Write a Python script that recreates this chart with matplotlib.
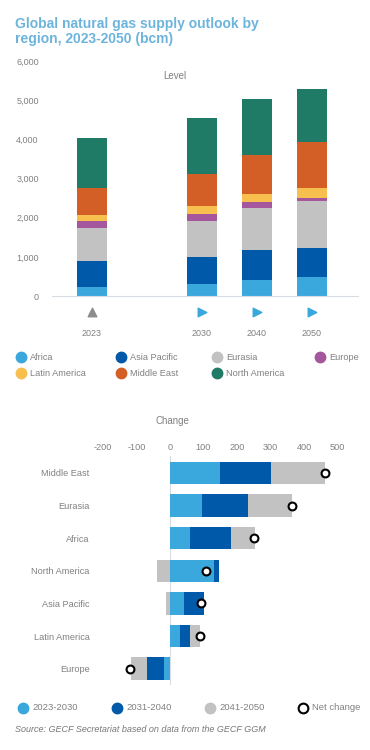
import numpy as np
import matplotlib
matplotlib.use("Agg")
import matplotlib.pyplot as plt
from matplotlib.lines import Line2D
from matplotlib.ticker import FuncFormatter
import matplotlib.transforms as mtransforms

plt.rcParams['font.family'] = ['Liberation Sans', 'DejaVu Sans']
plt.rcParams['axes.unicode_minus'] = False

# ---- data ----
years = ['2023', '2030', '2040', '2050']
regions = ['Africa', 'Asia Pacific', 'Eurasia', 'Europe',
           'Latin America', 'Middle East', 'North America']
levels = {
    'Africa':        [240, 300, 410, 475],
    'Asia Pacific':  [660, 695, 765, 760],
    'Eurasia':       [827, 925, 1070, 1200],
    'Europe':        [194, 170, 145, 75],
    'Latin America': [153, 210, 210, 240],
    'Middle East':   [689, 825, 995, 1175],
    'North America': [1260, 1430, 1435, 1370],
}
region_colors = ['#3aa8dc', '#005aa9', '#c2c2c2', '#a4579c',
                 '#f6bf4e', '#d35f27', '#1f7b66']

change_regions = ['Middle East', 'Eurasia', 'Africa', 'North America',
                  'Asia Pacific', 'Latin America', 'Europe']
periods = ['2023-2030', '2031-2040', '2041-2050']
chg_2023_2030 = [149, 94, 61, 130, 42, 29, -17]
chg_2031_2040 = [153, 138, 120, 15, 60, 31, -52]
chg_2041_2050 = [160, 132, 72, -38, -11, 30, -47]
net_change = [462, 363, 251, 107, 91, 88, -119]
period_colors = ['#3aa8dc', '#005aa9', '#c2c2c2']

TXT = '#808080'
W, H = 370, 750

fig = plt.figure(figsize=(W / 100, H / 100), dpi=100)


def px_axes(left, top, right, bottom):
    return fig.add_axes([left / W, 1 - bottom / H, (right - left) / W, (bottom - top) / H])


# title
fig.text(15 / W, 1 - 17 / H, 'Global natural gas supply outlook by\nregion, 2023-2050 (bcm)',
         color='#6cb4dc', fontsize=10, fontweight='bold', va='top', ha='left',
         linespacing=1.12)

# ---- top: levels ----
ax = px_axes(52, 61, 358, 296)
xpos = np.array([0, 2, 3, 4])
bottom = np.zeros(len(years))
for reg, col in zip(regions, region_colors):
    vals = np.array(levels[reg])
    ax.bar(xpos, vals, 0.545, bottom=bottom, color=col, zorder=2)
    bottom += vals
ax.set_xlim(-0.727, 4.84)
ax.set_ylim(0, 6000)
ax.set_yticks(np.arange(0, 6001, 1000))
ax.yaxis.set_major_formatter(FuncFormatter(lambda v, p: f'{int(v):,}'))
ax.tick_params(axis='y', length=0, pad=9.5, labelsize=6.5, labelcolor=TXT)
ax.set_xticks(xpos)
ax.set_xticklabels(years)
ax.tick_params(axis='x', length=0, pad=24, labelsize=6.5, labelcolor=TXT)
for s in ['top', 'right', 'left']:
    ax.spines[s].set_visible(False)
ax.spines['bottom'].set_color('#d8dde3')
ax.spines['bottom'].set_linewidth(0.8)
ax.text(0.4, 0.935, 'Level', transform=ax.transAxes, ha='center', va='center',
        fontsize=7, color=TXT)
trans = mtransforms.blended_transform_factory(ax.transData, ax.transAxes)
ax.scatter(xpos[:1], [-0.068], marker='^', s=38, color='#8c8c8c', transform=trans,
           clip_on=False, zorder=3)
ax.scatter(xpos[1:], [-0.068] * 3, marker='>', s=38, color='#3aa8dc', transform=trans,
           clip_on=False, zorder=3)

# top legend
col_x = [16, 116, 212, 315]
for i, (reg, col) in enumerate(zip(regions, region_colors)):
    cx = col_x[i % 4]
    cy = 357 + 16 * (i // 4)
    fig.add_artist(Line2D([(cx + 5) / W], [1 - cy / H], marker='o', markersize=7.5,
                          color=col, linestyle='none'))
    fig.text((cx + 14) / W, 1 - cy / H, reg, fontsize=6.6, color=TXT,
             va='center', ha='left')

# ---- bottom: change ----
bx = px_axes(93, 456, 357.6, 685)
y = np.arange(len(change_regions))
pos_left = np.zeros(len(y))
neg_left = np.zeros(len(y))
for vals, col in zip([chg_2023_2030, chg_2031_2040, chg_2041_2050], period_colors):
    vals = np.array(vals, dtype=float)
    left = np.where(vals >= 0, pos_left, neg_left)
    bx.barh(y, vals, 0.69, left=left, color=col, zorder=2)
    pos_left += np.where(vals >= 0, vals, 0)
    neg_left += np.where(vals < 0, vals, 0)
bx.scatter(net_change, y, s=32, facecolor='white', edgecolor='black',
           linewidth=1.5, zorder=4)
bx.set_xlim(-230, 560)
bx.set_ylim(6.5, -0.52)
bx.set_yticks(y)
bx.set_yticklabels(change_regions)
bx.set_xticks(np.arange(-200, 501, 100))
bx.xaxis.tick_top()
bx.tick_params(axis='x', length=0, pad=3, labelsize=6.6, labelcolor=TXT)
bx.tick_params(axis='y', length=0, pad=2.5, labelsize=6.6, labelcolor=TXT)
for s in ['top', 'right', 'left', 'bottom']:
    bx.spines[s].set_visible(False)
bx.axvline(0, color='#d8dde3', linewidth=0.8, zorder=1)
bx.text(0.3, 1.155, 'Change', transform=bx.transAxes, ha='center', va='center',
        fontsize=7, color=TXT)

# bottom legend
leg_x = [18, 112, 205, 298]
for i, (lab, col) in enumerate(zip(periods + ['Net change'], period_colors + ['white'])):
    cx = leg_x[i]
    cy = 708
    if lab == 'Net change':
        fig.add_artist(Line2D([(cx + 5) / W], [1 - cy / H], marker='o', markersize=7,
                              markerfacecolor='white', markeredgecolor='black',
                              markeredgewidth=1.5, linestyle='none'))
    else:
        fig.add_artist(Line2D([(cx + 5) / W], [1 - cy / H], marker='o', markersize=7.5,
                              color=col, linestyle='none'))
    fig.text((cx + 14) / W, 1 - cy / H, lab, fontsize=6.8, color=TXT,
             va='center', ha='left')

fig.text(15 / W, 1 - 729 / H, 'Source: GECF Secretariat based on data from the GECF GGM',
         fontsize=6.5, color='#777777', style='italic', va='center', ha='left')

fig.savefig('out.png', dpi=100)
